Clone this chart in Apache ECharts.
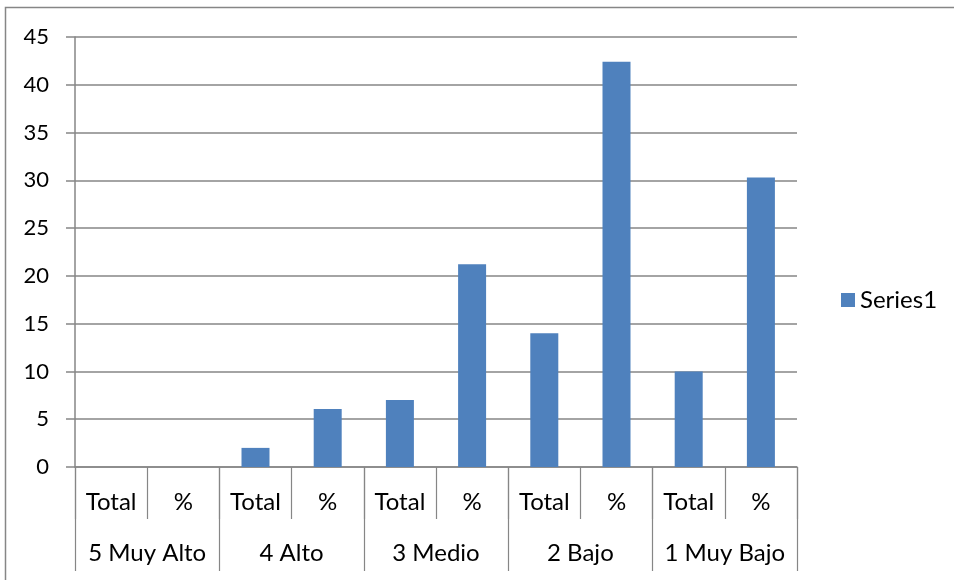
<!DOCTYPE html>
<html>
<head>
<meta charset="utf-8">
<script src="https://cdn.jsdelivr.net/npm/echarts@6/dist/echarts.min.js"></script>
<style>html,body{margin:0;padding:0;background:#fff;}#c{width:954px;height:580px;}</style>
</head>
<body>
<div id="c"></div>
<script>
const subCategories = ['Total', '%', 'Total', '%', 'Total', '%', 'Total', '%', 'Total', '%'];
const groupCategories = ['5 Muy Alto', '4 Alto', '3 Medio', '2 Bajo', '1 Muy Bajo'];
const series1 = [0, 0, 2, 6.06, 7, 21.21, 14, 42.42, 10, 30.3];
const seriesName = 'Series1';

const FONT = 'Lato, Carlito, "Liberation Sans", sans-serif';
const chart = echarts.init(document.getElementById('c'), null, {renderer: 'canvas'});
chart.setOption({
  animation: false,
  backgroundColor: '#fff',
  textStyle: {fontFamily: FONT},
  graphic: [{
    type: 'rect', shape: {x: 5.5, y: 7.5, width: 1000, height: 1000},
    style: {fill: 'none', stroke: '#868686', lineWidth: 1.5}, silent: true
  }],
  legend: {
    data: [seriesName], orient: 'vertical', left: 836, top: 283,
    itemWidth: 14, itemHeight: 14, itemGap: 6, icon: 'rect',
    textStyle: {fontSize: 24, color: '#000', fontFamily: FONT}
  },
  grid: {left: 75, right: 157, top: 37, bottom: 113, containLabel: false},
  xAxis: [{
    type: 'category', data: subCategories, position: 'bottom',
    axisLine: {show: true, lineStyle: {color: '#868686', width: 1.5}},
    axisTick: {show: true, length: 52, alignWithLabel: false, interval: 0, lineStyle: {color: '#868686', width: 1.2}},
    axisLabel: {interval: 0, margin: 23, fontSize: 24, color: '#000', fontFamily: FONT},
    splitLine: {show: false}
  }, {
    type: 'category', data: groupCategories, position: 'bottom', offset: 0,
    axisLine: {show: false},
    axisTick: {show: true, length: 104, interval: 0, lineStyle: {color: '#868686', width: 1.2}},
    axisLabel: {interval: 0, margin: 74, fontSize: 24, color: '#000', fontFamily: FONT},
    splitLine: {show: false}
  }],
  yAxis: {
    type: 'value', min: 0, max: 45, interval: 5,
    axisLine: {show: true, lineStyle: {color: '#868686', width: 1.5}},
    axisTick: {show: true, length: 9, lineStyle: {color: '#868686', width: 1.5}},
    axisLabel: {fontSize: 22, color: '#000', margin: 26, fontFamily: FONT},
    splitLine: {show: true, lineStyle: {color: '#868686', width: 1.5}}
  },
  series: [{
    name: seriesName, type: 'bar', data: series1, xAxisIndex: 0,
    barWidth: 28,
    itemStyle: {color: '#4F81BD', borderWidth: 0}
  }]
});
</script>
</body>
</html>
